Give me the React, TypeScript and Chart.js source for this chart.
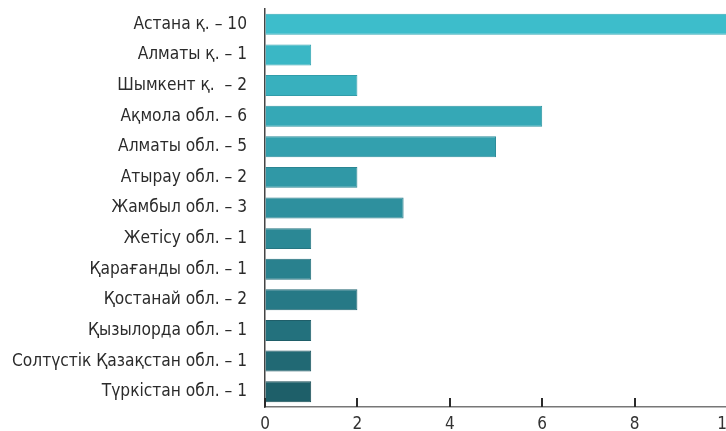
import React, { useEffect, useRef } from "react";
import { Chart, registerables } from "chart.js";

Chart.register(...registerables);

const categories = [
  "Астана қ. – 10",
  "Алматы қ. – 1",
  "Шымкент қ.  – 2",
  "Ақмола обл. – 6",
  "Алматы обл. – 5",
  "Атырау обл. – 2",
  "Жамбыл обл. – 3",
  "Жетісу обл. – 1",
  "Қарағанды обл. – 1",
  "Қостанай обл. – 2",
  "Қызылорда обл. – 1",
  "Солтүстік Қазақстан обл. – 1",
  "Түркістан обл. – 1",
];

const values = [10, 1, 2, 6, 5, 2, 3, 1, 1, 2, 1, 1, 1];

const barColors = [
  "#3dbdcb", "#3ab7c5", "#38b0be", "#35a8b6", "#33a0ae", "#3098a6",
  "#2e909e", "#2b8895", "#29818e", "#267986", "#23717d", "#216974", "#1e5f69",
];

const borderColors = [
  "#35aab7", "#33a4b1", "#319daa", "#2f95a2", "#2d8d9a", "#2a8592",
  "#287d8a", "#267581", "#246e7a", "#216672", "#1f5e69", "#1c5660", "#194d55",
];

const xTicks = [0, 2, 4, 6, 8, 10];

const FONT = "'Liberation Sans Narrow', 'DejaVu Sans Condensed', 'Roboto Condensed', 'Arial Narrow', sans-serif";

const innerTicks = {
  id: "innerTicks",
  afterDraw(chart: any) {
    const s = chart.scales.x;
    const ctx = chart.ctx;
    const base = chart.chartArea.bottom;
    ctx.save();
    ctx.fillStyle = "#2a2a2a";
    for (const v of xTicks) {
      const px = Math.round(s.getPixelForValue(v));
      ctx.fillRect(px - 1, base - 9, 2, 9);
    }
    ctx.restore();
  },
};

export default function App() {
  const ref = useRef<HTMLCanvasElement>(null);

  useEffect(() => {
    document.body.style.margin = "0";
    document.body.style.overflow = "hidden";
    const chart = new Chart(ref.current!, {
      type: "bar",
      data: {
        labels: categories,
        datasets: [
          {
            data: values,
            backgroundColor: barColors,
            borderColor: borderColors,
            borderWidth: 1,
            categoryPercentage: 1,
            barPercentage: 0.685,
          },
        ],
      },
      plugins: [innerTicks],
      options: {
        indexAxis: "y",
        animation: false,
        responsive: false,
        maintainAspectRatio: false,
        layout: { padding: { top: 9, left: 0, right: 0, bottom: 0 } },
        plugins: { legend: { display: false }, tooltip: { enabled: false } },
        scales: {
          x: {
            min: 0,
            max: 10,
            afterBuildTicks: (s: any) => {
              s.ticks = xTicks.map((v) => ({ value: v }));
            },
            afterFit: (s: any) => {
              s.height = 24;
              s.paddingLeft = 0;
              s.paddingRight = 0;
            },
            grid: {
              display: true,
              drawOnChartArea: false,
              drawTicks: false,
            },
            border: { display: true, color: "#777", width: 1.5 },
            ticks: {
              padding: 7,
              color: "#333",
              font: { family: FONT, size: 17 },
              maxRotation: 0,
              autoSkip: false,
            },
          },
          y: {
            afterFit: (s: any) => {
              s.width = 265;
              s.paddingTop = 0;
              s.paddingBottom = 0;
            },
            grid: { display: true, drawOnChartArea: false, drawTicks: false },
            border: { display: true, color: "#444", width: 1.5 },
            ticks: {
              padding: 18,
              color: "#2b2b2b",
              font: { family: FONT, size: 17.2 },
              autoSkip: false,
            },
          },
        },
      },
    });
    return () => chart.destroy();
  }, []);

  return (
    <div style={{ width: 727, height: 431 }}>
      <canvas ref={ref} width={727} height={431} style={{ display: "block" }} />
    </div>
  );
}
